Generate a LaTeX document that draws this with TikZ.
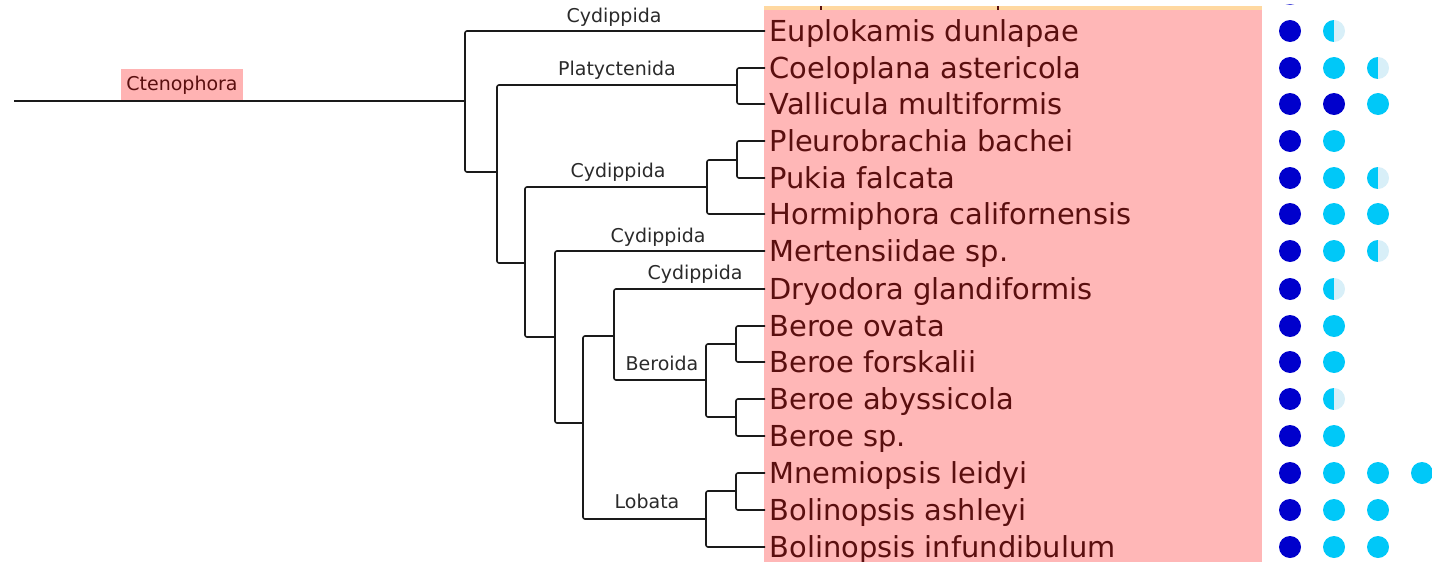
\documentclass[tikz,border=0pt]{standalone}
\usepackage{fontspec}
\setmainfont{DejaVu Sans}
\definecolor{linec}{HTML}{1A1A1A}
\definecolor{spc}{HTML}{5A0F0F}
\definecolor{labc}{HTML}{2A2A2A}
\definecolor{pinkc}{HTML}{FFB7B7}
\definecolor{peach}{HTML}{FFD8A0}
\definecolor{ctpink}{HTML}{FFB3B3}
\definecolor{dkb}{HTML}{0000CC}
\definecolor{cyb}{HTML}{00C8F8}
\definecolor{pale}{HTML}{D8EFF8}
\begin{document}
\begin{tikzpicture}[x=1pt,y=-1pt,
  br/.style={line width=1.6pt, draw=linec, rounded corners=2pt},
  sp/.style={anchor=west, inner xsep=4.5pt, inner ysep=0pt, text height=26pt, text depth=6pt, font=\fontsize{28.9}{30}\selectfont, text=spc},
  cl/.style={anchor=base, inner sep=0pt, font=\fontsize{19}{20}\selectfont, text=labc},
  dk/.style={circle, inner sep=0pt, minimum size=22pt, fill=dkb},
  cy/.style={circle, inner sep=0pt, minimum size=22pt, fill=cyb},
  hf/.style={circle, inner sep=0pt, minimum size=22pt, fill=pale, path picture={\fill[cyb] (path picture bounding box.south west) rectangle (path picture bounding box.north);}}
]
\useasboundingbox (0,0) rectangle (1432,562);
% species panel
\fill[pinkc] (764,10) rectangle (1262,562);
\fill[peach] (764,6) rectangle (1262,10);
\draw[line width=1.5pt, spc] (821,6) -- (821,10);
\draw[line width=1.5pt, spc] (998,6) -- (998,10);
\begin{scope}
  \clip (1270,4.5) rectangle (1310,7);
  \fill[dkb!70] (1290,-6) circle[radius=11];
\end{scope}
% species names
\node[sp] (t1) at (765,31) {Euplokamis dunlapae};
\node[sp] (t2) at (765,68) {Coeloplana astericola};
\node[sp] (t3) at (765,104) {Vallicula multiformis};
\node[sp] (t4) at (765,141) {Pleurobrachia bachei};
\node[sp] (t5) at (765,178) {Pukia falcata};
\node[sp] (t6) at (765,214) {Hormiphora californensis};
\node[sp] (t7) at (765,251) {Mertensiidae sp.};
\node[sp] (t8) at (765,289) {Dryodora glandiformis};
\node[sp] (t9) at (765,326) {Beroe ovata};
\node[sp] (t10) at (765,362) {Beroe forskalii};
\node[sp] (t11) at (765,399) {Beroe abyssicola};
\node[sp] (t12) at (765,436) {Beroe sp.};
\node[sp] (t13) at (765,473) {Mnemiopsis leidyi};
\node[sp] (t14) at (765,510) {Bolinopsis ashleyi};
\node[sp] (t15) at (765,547) {Bolinopsis infundibulum};
% internal nodes
\coordinate (r) at (14,101);
\coordinate (n0) at (465,101);
\coordinate (n1) at (497,172);
\coordinate (nP) at (737,85);
\coordinate (n2) at (525,263);
\coordinate (nC) at (707,187);
\coordinate (nPP) at (737,160);
\coordinate (n3) at (555,337);
\coordinate (n4) at (583,423);
\coordinate (n5) at (614,336);
\coordinate (nB) at (706,380);
\coordinate (nB1) at (736,344);
\coordinate (nB2) at (736,417);
\coordinate (nL) at (706,519);
\coordinate (nL1) at (736,491);
% root label
\node[fill=ctpink, text=spc, minimum width=122pt, minimum height=33pt, inner sep=0pt, font=\fontsize{19}{20}\selectfont] (ct) at (182,85.5) {Ctenophora};
% branches
\draw[br] (r) -- (n0);
\draw[br] (n0) |- (t1.west);
\draw[br] (n0) |- (n1);
\draw[br] (n1) |- (nP);
\draw[br] (nP) |- (t2.west);
\draw[br] (nP) |- (t3.west);
\draw[br] (n1) |- (n2);
\draw[br] (n2) |- (nC);
\draw[br] (nC) |- (nPP);
\draw[br] (nPP) |- (t4.west);
\draw[br] (nPP) |- (t5.west);
\draw[br] (nC) |- (t6.west);
\draw[br] (n2) |- (n3);
\draw[br] (n3) |- (t7.west);
\draw[br] (n3) |- (n4);
\draw[br] (n4) |- (n5);
\draw[br] (n5) |- (t8.west);
\draw[br] (n5) |- (nB);
\draw[br] (nB) |- (nB1);
\draw[br] (nB1) |- (t9.west);
\draw[br] (nB1) |- (t10.west);
\draw[br] (nB) |- (nB2);
\draw[br] (nB2) |- (t11.west);
\draw[br] (nB2) |- (t12.west);
\draw[br] (n4) |- (nL);
\draw[br] (nL) |- (nL1);
\draw[br] (nL1) |- (t13.west);
\draw[br] (nL1) |- (t14.west);
\draw[br] (nL) |- (t15.west);
% clade labels
\node[cl] (lb1) at (614,22) {Cydippida};
\node[cl] (lb2) at (617,75) {Platyctenida};
\node[cl] (lb3) at (618,177) {Cydippida};
\node[cl] (lb4) at (658,242) {Cydippida};
\node[cl] (lb5) at (695,279) {Cydippida};
\node[cl] (lb6) at (662,370) {Beroida};
\node[cl] (lb7) at (647,508) {Lobata};
% dots
\foreach \r/\y/\lst in {1/31/{dk,hf}, 2/68/{dk,cy,hf}, 3/104/{dk,dk,cy}, 4/141/{dk,cy}, 5/178/{dk,cy,hf}, 6/214/{dk,cy,cy}, 7/251/{dk,cy,hf}, 8/289/{dk,hf}, 9/326/{dk,cy}, 10/362/{dk,cy}, 11/399/{dk,hf}, 12/436/{dk,cy}, 13/473/{dk,cy,cy,cy}, 14/510/{dk,cy,cy}, 15/547/{dk,cy,cy}}{
  \foreach \s [count=\k] in \lst {
    \node[\s] (c\r-\k) at ({1290+44*(\k-1)},\y) {};
  }
}
\end{tikzpicture}
\end{document}
